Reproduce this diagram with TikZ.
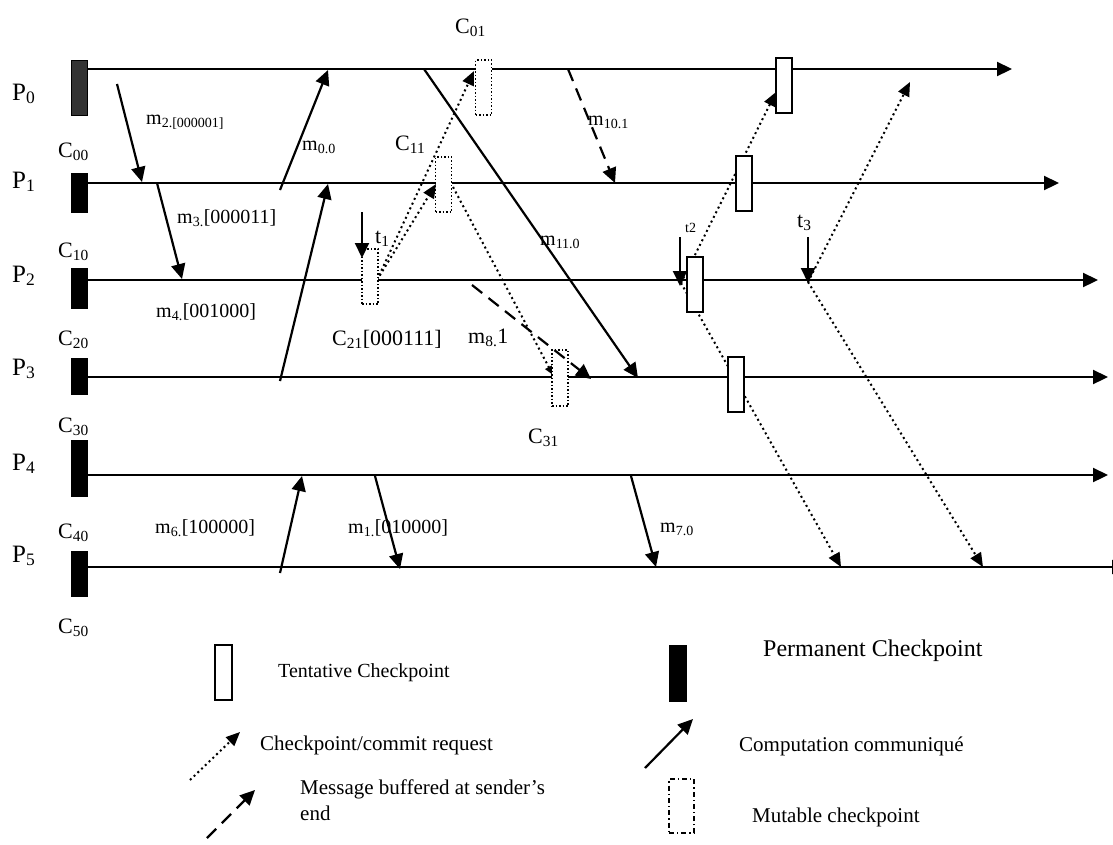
\documentclass[tikz,border=0pt]{standalone}
\usepackage{fontspec}
\setmainfont{Liberation Serif}
\usetikzlibrary{arrows.meta}

\tikzset{
  axis/.style={line width=2.2pt, -{Triangle[length=15pt,width=14pt]}},
  msg/.style={line width=2.2pt, -{Triangle[length=15pt,width=14pt]}},
  buf/.style={msg, dash pattern=on 13pt off 8pt},
  req/.style={line width=2pt, dash pattern=on 2pt off 3.2pt, -{Triangle[length=14pt,width=12pt]}},
  ckbox/.style={draw, inner sep=0pt, minimum width=16pt},
  perm/.style={ckbox, line width=1pt, fill=black},
  tent/.style={ckbox, line width=1.5pt, fill=white},
  mut/.style={ckbox, line width=1.5pt, dash pattern=on 1.5pt off 2pt, fill=white},
  lbl/.style={inner sep=0pt, anchor=base west, font=\fontsize{20}{24}\selectfont},
  clab/.style={lbl, font=\fontsize{22}{26}\selectfont},
  plab/.style={lbl, font=\fontsize{25}{29}\selectfont},
  leg/.style={lbl, font=\fontsize{21}{26}\selectfont},
}

\begin{document}
\begin{tikzpicture}[x=1pt,y=-1pt]
\useasboundingbox (0,0) rectangle (1113,844);
\clip (0,0) rectangle (1113,844);

% ===== process lines =====
\foreach \i/\y/\e in {0/69/1012,1/183/1059,2/280/1098,3/377/1108,4/475/1108,5/567/1127} {
    \coordinate (s\i) at (87,\y);
    \coordinate (e\i) at (\e,\y);
    \draw[axis] (s\i) -- (e\i);
}

% ===== process and checkpoint names =====
\foreach \i/\b in {0/100,1/188,2/282,3/375,4/470,5/562} {
    \node[plab] (P\i) at (12,\b) {P\textsubscript{\i}};
}
\foreach \i/\b in {0/157,1/257,2/345,3/432,4/538,5/633} {
    \node[clab] (C\i0) at (58,\b) {C\textsubscript{\i0}};
}

% ===== checkpoint requests =====
\coordinate (q21) at (377,280);
\coordinate (q11) at (453,187);
\coordinate (qt2) at (681,283);
\coordinate (qt3) at (808,282);
\coordinate (r11) at (436,184);
\coordinate (r01) at (474,71);
\coordinate (r31) at (553,375);
\coordinate (r0) at (776,92);
\coordinate (r5a) at (841,567);
\coordinate (r0b) at (910,82);
\coordinate (r5b) at (983,567);
\draw[req] (q21) -- (r11);
\draw[req] (q21) -- (r01);
\draw[req, -{Triangle[length=9pt,width=8pt]}] (q11) -- (r31);
\draw[req] (qt2) -- (r0);
\draw[req] (qt2) -- (r5a);
\draw[req] (qt3) -- (r0b);
\draw[req] (qt3) -- (r5b);

% ===== permanent checkpoints =====
\node[perm, fill=black!80, minimum height=55pt] (k0) at (79,87.5) {};
\foreach \i/\y/\h in {1/192.5/39,2/288/40,3/376/36,4/468/56,5/573.5/45} {
    \node[perm, minimum height=\h pt] (k\i) at (79,\y) {};
}

% ===== tentative checkpoints =====
\node[tent, minimum height=55pt] (n0) at (784,85.5) {};
\node[tent, minimum height=55pt] (n1) at (744,183.5) {};
\node[tent, minimum height=55pt] (n2) at (695,284.5) {};
\node[tent, minimum height=55pt] (n3) at (736,384.5) {};

% ===== mutable checkpoints =====
\node[mut, minimum height=55pt] (u01) at (483.5,87.5) {};
\node[mut, minimum height=55pt] (u11) at (443.5,184.5) {};
\node[mut, minimum height=55pt] (u21) at (370,276.5) {};
\node[mut, minimum height=56pt] (u31) at (560,378) {};

% ===== computation messages =====
\coordinate (m2s) at (117,84);   \coordinate (m2r) at (142,182);
\coordinate (m3s) at (157,183);  \coordinate (m3r) at (182,279);
\coordinate (m0s) at (280,190);  \coordinate (m0r) at (328,70);
\coordinate (m4s) at (280,381);  \coordinate (m4r) at (328,184);
\coordinate (m6s) at (280,573);  \coordinate (m6r) at (302,476);
\coordinate (m1s) at (375,476);  \coordinate (m1r) at (400,569);
\coordinate (m7s) at (631,476);  \coordinate (m7r) at (656,567);
\coordinate (m11s) at (424,69);  \coordinate (m11r) at (638,378);
\coordinate (m10s) at (568,69);  \coordinate (m10r) at (615,183);
\coordinate (m8s) at (472,285);  \coordinate (m8r) at (591,379);
\foreach \m in {m2,m3,m0,m4,m6,m1,m7,m11} {
    \draw[msg] (\m s) -- (\m r);
}
\draw[buf] (m10s) -- (m10r);
\draw[buf] (m8s) -- (m8r);

% ===== initiators =====
\coordinate (t1s) at (362,212);  \coordinate (t1r) at (362,258);
\coordinate (t2s) at (680,237);  \coordinate (t2r) at (680,286);
\coordinate (t3s) at (808,237);  \coordinate (t3r) at (808,283);
\foreach \t in {t1,t2,t3} {
    \draw[msg] (\t s) -- (\t r);
}

% ===== labels =====
\node[lbl] (l2) at (146,124) {m\textsubscript{2.[000001]}};
\node[lbl] (l3) at (177,223) {m\textsubscript{3.}[000011]};
\node[lbl] (l4) at (156,317) {m\textsubscript{4.}[001000]};
\node[lbl] (l0) at (302,150) {m\textsubscript{0.0}};
\node[lbl] (l6) at (155,533) {m\textsubscript{6.}[100000]};
\node[lbl] (l1) at (348,533) {m\textsubscript{1.}[010000]};
\node[lbl] (l7) at (660,532) {m\textsubscript{7.0}};
\node[lbl] (l11) at (540,245) {m\textsubscript{11.0}};
\node[lbl] (l10) at (588,125) {m\textsubscript{10.1}};
\node[lbl, font=\fontsize{22}{26}\selectfont] (l8) at (468,343) {m\textsubscript{8.}1};
\node[clab] (lc01) at (455,33) {C\textsubscript{01}};
\node[clab] (lc11) at (395,150) {C\textsubscript{11}};
\node[clab] (lc21) at (332,345) {C\textsubscript{21}[000111]};
\node[clab] (lc31) at (528,443) {C\textsubscript{31}};
\node[clab] (lt1) at (375,243) {t\textsubscript{1}};
\node[lbl, font=\fontsize{14}{17}\selectfont] (lt2) at (685,232) {t2};
\node[clab] (lt3) at (797,227) {t\textsubscript{3}};

% ===== legend =====
\node[tent, minimum width=17pt, minimum height=55pt] (gt) at (223.5,672.5) {};
\node[lbl] (gtt) at (278,677) {Tentative Checkpoint};
\node[perm, minimum width=17pt, minimum height=56pt] (gp) at (677.5,673) {};
\node[lbl, font=\fontsize{24}{28}\selectfont] (gpt) at (763,656) {Permanent Checkpoint};
\coordinate (gqs) at (190,780);  \coordinate (gqr) at (240,732);
\draw[req] (gqs) -- (gqr);
\node[leg] (gqt) at (260,750) {Checkpoint/commit request};
\coordinate (gms) at (645,768);  \coordinate (gmr) at (693,719);
\draw[msg] (gms) -- (gmr);
\node[leg] (gmt) at (739,751) {Computation communiqué};
\coordinate (gbs) at (207,838);  \coordinate (gbr) at (255,790);
\draw[buf] (gbs) -- (gbr);
\node[leg, align=left] (gbt) at (300,820) {Message buffered at sender's\\end};
\node[ckbox, line width=1.3pt, minimum width=25pt, minimum height=54pt,
      dash pattern=on 5pt off 3pt on 1.3pt off 3pt] (gu) at (681.5,806) {};
\node[leg] (gut) at (752,822) {Mutable checkpoint};

\end{tikzpicture}
\end{document}
